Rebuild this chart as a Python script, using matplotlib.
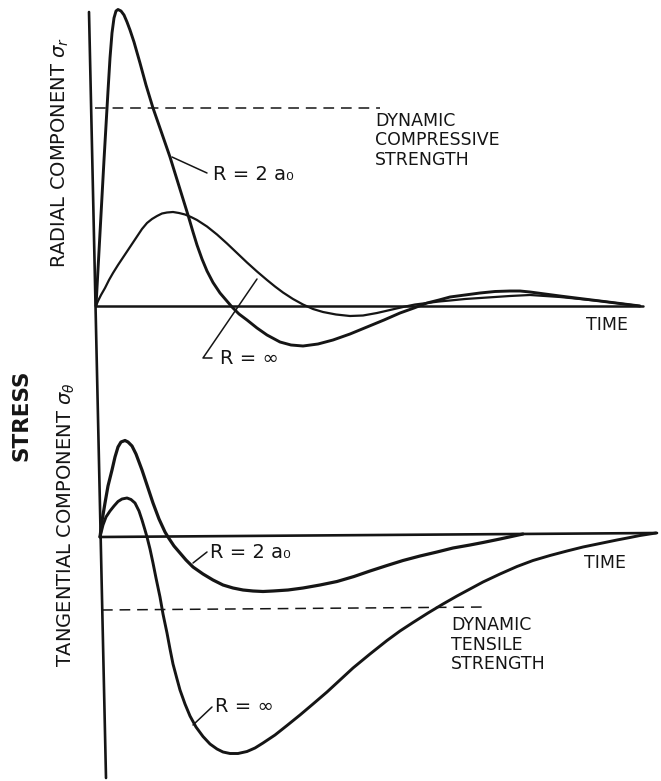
import matplotlib
matplotlib.use("Agg")
import matplotlib.pyplot as plt

plt.rcParams['font.family'] = ['DejaVu Sans']

INK = '#151515'

# ---------------- data (arbitrary units: time, stress) ----------------
# Top panel: radial component
rad_2a0_t = [0, 4, 8, 12, 14, 16, 18, 20, 22, 25, 28, 31, 34, 38, 44, 50, 57, 65, 74, 83,
             92, 97, 101, 106, 111, 117, 124, 130, 136, 143, 151, 161, 171, 184, 195, 207,
             222, 237, 254, 271, 288, 304, 318, 331, 343, 354, 369, 384, 399, 414, 424,
             434, 449, 464, 484, 504, 524, 544]
rad_2a0_s = [0, 73, 146, 215, 248, 273, 288, 295, 296.5, 295, 291, 284, 276, 264, 243, 221,
             198, 175, 149, 120, 91, 74, 61, 47, 35, 23.5, 13, 6, -1, -8, -14, -22, -29, -36,
             -39, -40, -38, -34, -28, -21, -14, -7, -2, 3, 6, 9, 11, 13, 14.5, 15, 15,
             14, 12, 10, 7.5, 5, 2.5, 0]

rad_inf_t = [0, 2, 5, 9, 13, 17, 22, 28, 34, 40, 46, 51, 56, 61, 66, 71, 77, 83, 89, 95,
             101, 111, 121, 131, 141, 151, 161, 171, 179, 187, 197, 207, 217, 227, 240, 254,
             267, 281, 294, 307, 319, 331, 343, 354, 369, 384, 399, 414, 424, 434, 449, 464,
             484, 504, 524, 544]
rad_inf_s = [0, 5, 11, 18, 26, 33, 41, 50, 59, 68, 77, 83, 87, 90, 92.5, 93.5, 94, 93, 91.5,
             89, 86, 79.5, 71.5, 62.5, 53, 43.5, 34.5, 26, 19.5, 13.5, 7, 1.5, -3, -6, -8.5,
             -10, -9.5, -7, -4, -1, 1.5, 3, 4.5, 5.5, 7, 8, 9, 10, 10.5, 11, 10, 9,
             7, 5, 2.5, 0]

rad_time_end = 547
rad_compressive_strength = 198
rad_dash_t = [-1, 284]

# Bottom panel: tangential component
tan_2a0_t = [0, 2, 5, 8, 12, 15, 18, 21, 25, 28, 32, 36, 42, 47, 53, 59, 65, 68, 74, 80, 86,
             93, 103, 113, 123, 133, 143, 153, 163, 173, 188, 203, 220, 237, 254, 270, 287,
             303, 320, 337, 353, 370, 383, 400, 423]
tan_2a0_s = [0, 16, 34, 51, 67, 80, 90, 95, 96.5, 95, 91, 83, 67, 52, 34, 18, 5, 0, -9, -16,
             -23, -30, -37, -43, -48, -51, -53, -54, -54.5, -54, -53, -51, -48, -44.5, -39.5,
             -34, -28.5, -23.5, -19, -15, -11, -8, -5.5, -2, 3]

tan_inf_t = [0, 3, 6, 10, 14, 18, 22, 27, 31, 35, 39, 42, 45, 47, 50, 53, 56, 60, 63, 67, 70,
             73, 77, 80, 85, 90, 96, 103, 110, 117, 123, 130, 138, 147, 155, 163, 175, 187,
             200, 213, 227, 240, 253, 270, 287, 300, 313, 328, 343, 357, 370, 383, 400, 417,
             433, 450, 467, 483, 500, 517, 530, 540, 556]
tan_inf_s = [0, 12, 20, 26, 31, 35.5, 38, 39, 37.5, 34, 26, 17, 7, 0, -12, -26, -41, -60, -77,
             -96, -112, -127, -142, -153, -167, -179, -190, -199.5, -207, -212, -215, -216.5,
             -216.5, -214.5, -211, -206, -198, -188.5, -178, -167, -155, -143, -131, -117,
             -103.5, -94, -85.5, -76, -67, -59, -52, -45, -37, -29.5, -23.5, -18.5, -14, -10,
             -6.5, -3, -0.5, 1.5, 4]

tan_baseline_t = [0, 557]
tan_baseline_s = [0, 4]
tan_tensile_strength = [-73, -70]
tan_dash_t = [2, 387]

# ---------------- figure ----------------
W, H = 661, 781
fig = plt.figure(figsize=(W / 100, H / 100), dpi=100)
fig.patch.set_facecolor('white')

ax1 = fig.add_axes([0, 0, 1, 1], label='radial')
ax1.set_xlim(-96, W - 96)
ax1.set_ylim(306 - H, 306)
ax2 = fig.add_axes([0, 0, 1, 1], label='tangential')
ax2.set_xlim(-100, W - 100)
ax2.set_ylim(537 - H, 537)
for ax in (ax1, ax2):
    ax.axis('off')
    ax.patch.set_visible(False)

kw = dict(color=INK, solid_capstyle='round', solid_joinstyle='round')

# stress axis (slightly slanted, spans both panels)
ax1.plot([-7, 10], [294, -472], lw=1.9, **kw)

# ---- top panel
ax1.plot([0, rad_time_end], [0, 0], lw=1.8, **kw)
ax1.plot(rad_dash_t, [rad_compressive_strength] * 2, color=INK, lw=1.1,
         dashes=[7, 4.5])
ax1.plot(rad_2a0_t, rad_2a0_s, lw=2.1, **kw)
ax1.plot(rad_inf_t, rad_inf_s, lw=1.6, **kw)

# leaders + labels
ax1.plot([76, 111], [149, 133], lw=1.1, **kw)
ax1.text(117, 131, 'R = 2 a₀', fontsize=14, color=INK, ha='left', va='center')
ax1.plot([161, 107, 116], [27, -52, -52], lw=1.1, **kw)
ax1.text(124, -52, 'R = ∞', fontsize=14, color=INK, ha='left', va='center')

ax1.text(279, 194, 'DYNAMIC\nCOMPRESSIVE\nSTRENGTH', fontsize=12.5, color=INK,
         ha='left', va='top', linespacing=1.1)
ax1.text(511, -19, 'TIME', fontsize=12.5, color=INK, ha='center', va='center')

# ---- bottom panel
ax2.plot(tan_baseline_t, tan_baseline_s, lw=1.9, **kw)
ax2.plot(tan_dash_t, tan_tensile_strength, color=INK, lw=1.1, dashes=[7, 4.5])
ax2.plot(tan_2a0_t, tan_2a0_s, lw=2.3, **kw)
ax2.plot(tan_inf_t, tan_inf_s, lw=2.1, **kw)

ax2.plot([93, 107], [-26, -15], lw=1.1, **kw)
ax2.text(110, -16, 'R = 2 a₀', fontsize=14, color=INK, ha='left', va='center')
ax2.plot([93, 112], [-188, -170], lw=1.1, **kw)
ax2.text(115, -170, 'R = ∞', fontsize=14, color=INK, ha='left', va='center')

ax2.text(351, -79, 'DYNAMIC\nTENSILE\nSTRENGTH', fontsize=12.5, color=INK,
         ha='left', va='top', linespacing=1.12)
ax2.text(505, -26, 'TIME', fontsize=12.5, color=INK, ha='center', va='center')

# ---- rotated axis labels
fig.text(60 / W, 1 - 152 / H, r'RADIAL COMPONENT $\sigma_r$', rotation=90,
         fontsize=14, color=INK, ha='center', va='center')
fig.text(66 / W, 1 - 525 / H, r'TANGENTIAL COMPONENT $\sigma_\theta$', rotation=90,
         fontsize=14, color=INK, ha='center', va='center')
fig.text(22 / W, 1 - 415 / H, 'STRESS', rotation=90, fontsize=15.5, fontweight='bold',
         color=INK, ha='center', va='center')

fig.savefig('out.png', dpi=100)
